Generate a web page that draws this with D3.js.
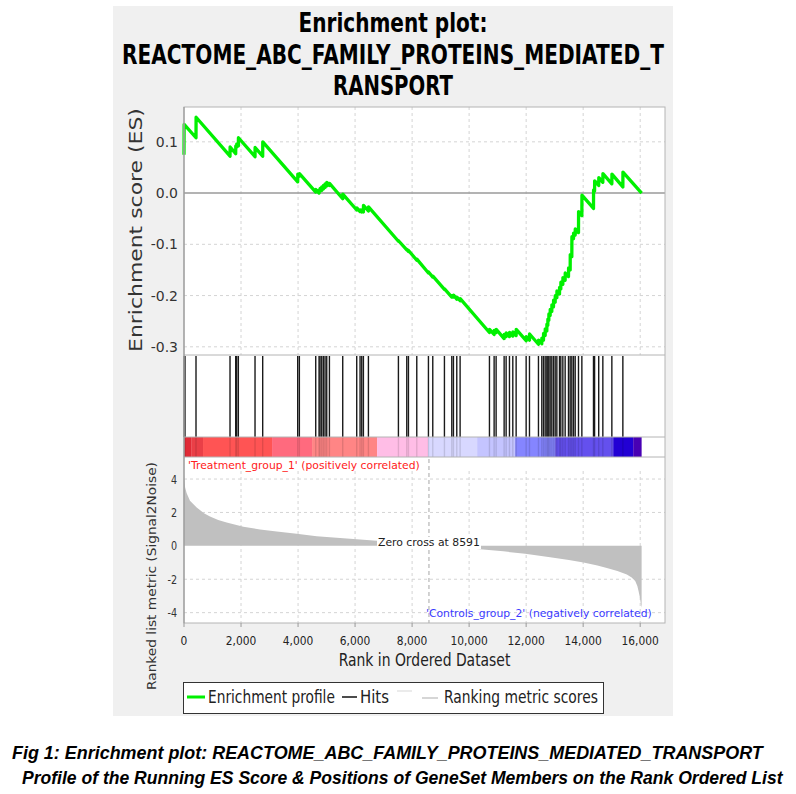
<!DOCTYPE html>
<html><head><meta charset="utf-8">
<script src="https://cdn.jsdelivr.net/npm/d3@7/dist/d3.min.js"></script>
<style>
html,body{margin:0;padding:0;background:#fff;}
svg{display:block;}
text{font-family:"DejaVu Sans",sans-serif;}
</style></head>
<body>
<svg id="chart" width="796" height="794"></svg>
<script>
// ---------------- data ----------------
const titleLines = ["Enrichment plot:", "REACTOME_ABC_FAMILY_PROTEINS_MEDIATED_T", "RANSPORT"];
const captionLines = ["Fig 1: Enrichment plot: REACTOME_ABC_FAMILY_PROTEINS_MEDIATED_TRANSPORT",
  "Profile of the Running ES Score & Positions of GeneSet Members on the Rank Ordered List"];
const totalGenes = 16050;
const zeroCross = 8591;
const xTicks = [0, 2000, 4000, 6000, 8000, 10000, 12000, 14000, 16000];
const esTicks = [0.1, 0.0, -0.1, -0.2, -0.3];
const metricTicks = [4, 2, 0, -2, -4];

// running enrichment score: rank positions and ES values
const esRanks = [0,5,421,424,1614,1617,1813,1816,1848,1851,1906,1909,2491,2494,2760,2763,
  3988,3991,4046,4049,4620,4623,4737,4740,4772,4775,4831,4834,4889,4892,4947,4950,5006,5009,
  5100,5103,5567,5570,6058,6061,6175,6178,6234,6237,6292,6295,6468,6471,7520,7523,7813,7816,
  7872,7875,8164,8167,8573,8576,8725,8728,9134,9137,9392,9395,9450,9453,9567,9570,9684,9687,
  10713,10716,10877,10880,10947,10950,11228,11231,11298,11301,11415,11418,11532,11535,11649,11652,
  12000,12003,12117,12120,12432,12435,12549,12552,12608,12611,12667,12670,12725,12728,12760,12763,
  12795,12798,12842,12845,12900,12903,12959,12962,13018,13021,13077,13080,13170,13173,13216,13219,
  13287,13290,13368,13371,13485,13488,13544,13547,13602,13605,13661,13664,13720,13723,13836,13839,
  13954,13957,14362,14365,14400,14403,14545,14548,14690,14693,15006,15009,15392,15395,16050];
const esValues = [0.075,0.134,0.108,0.148,0.072,0.090,0.077,0.092,0.090,0.096,0.092,0.108,0.071,0.089,0.072,0.100,
  0.022,0.037,0.033,0.038,0.002,0.007,0.000,0.006,0.004,0.009,0.005,0.012,0.008,0.015,0.011,0.018,0.014,0.021,
  0.015,0.019,-0.011,-0.002,-0.033,-0.029,-0.036,-0.033,-0.037,-0.033,-0.037,-0.024,-0.035,-0.027,-0.094,-0.093,-0.111,-0.110,
  -0.114,-0.112,-0.131,-0.129,-0.156,-0.154,-0.164,-0.162,-0.188,-0.187,-0.203,-0.200,-0.203,-0.199,-0.207,-0.203,-0.210,-0.206,
  -0.272,-0.266,-0.276,-0.268,-0.272,-0.266,-0.284,-0.276,-0.280,-0.273,-0.280,-0.272,-0.279,-0.271,-0.278,-0.266,
  -0.288,-0.280,-0.287,-0.275,-0.295,-0.287,-0.294,-0.283,-0.287,-0.274,-0.278,-0.265,-0.269,-0.256,-0.258,-0.246,
  -0.248,-0.236,-0.239,-0.227,-0.231,-0.218,-0.222,-0.209,-0.213,-0.200,-0.204,-0.191,-0.197,-0.184,-0.187,-0.174,
  -0.178,-0.165,-0.170,-0.156,-0.163,-0.146,-0.150,-0.120,-0.124,-0.085,-0.089,-0.078,-0.082,-0.070,-0.077,-0.036,
  -0.044,-0.004,-0.030,0.006,0.004,0.024,0.015,0.030,0.021,0.038,0.018,0.037,0.012,0.041,0.000];

// gene set member positions in the ranked list
const hitRanks = [5,35,421,1614,1813,1848,1906,2491,2760,3988,4046,4620,4737,4772,4831,4889,4947,5006,5100,
  5567,6058,6175,6234,6292,6468,7520,7813,7872,8164,8573,8725,9134,9392,9450,9567,9684,
  10713,10877,10947,11228,11298,11415,11532,11649,12000,12117,12432,12549,12608,12667,12725,12760,
  12795,12842,12900,12959,13018,13077,13170,13216,13287,13368,13485,13544,13602,13661,13720,13836,
  13954,14362,14400,14545,14690,15006,15392];

// ranked list metric (Signal2Noise)
const metricRanks = [0,15,40,94,210,445,700,912,1200,1497,2082,2667,3252,3953,4655,5590,6292,6760,7600,8200,8591,
  9300,10386,11200,11965,12842,13500,14012,14500,14830,15200,15532,15700,15825,15900,15942,15990,16025,16050];
const metricValues = [4.25,3.9,3.5,3.15,2.7,2.3,1.95,1.75,1.55,1.4,1.15,0.98,0.86,0.72,0.58,0.46,0.37,0.31,0.2,0.08,0,
  -0.08,-0.2,-0.33,-0.48,-0.68,-0.85,-1.0,-1.18,-1.32,-1.5,-1.72,-1.9,-2.1,-2.4,-2.7,-3.1,-3.5,-3.7];

// colour bar bands (rank start) and colours
const bandStarts = [0,250,667,3088,4491,6772,8561,10281,11614,13018,15053,15754];
const bandColors = ["#e02a36","#ea3f47","#ff5454","#ff6a7e","#ff8585","#ffbde6","#d8d8ff","#c4c4ff","#8585ff","#6450ee","#2200d4","#4800b4"];

// ---------------- drawing ----------------
const svg = d3.select("#chart");
const L = 184, R = 665;
const esTop = 107, esBot = 355, hitBot = 437, barBot = 457, mBot = 623;

const x = d3.scaleLinear().domain([0, 16870]).range([L, R]);
const yES = d3.scaleLinear().domain([-0.316, 0.168]).range([esBot, esTop]);
const yM = d3.scaleLinear().domain([-4.62, 5.32]).range([mBot, barBot]);

// text helper: optional target length applied as a horizontal scale
function label(g, s, o) {
  const t = g.append("text").text(s)
    .attr("x", 0).attr("y", 0)
    .attr("font-size", o.size)
    .attr("fill", o.fill || "#000")
    .attr("text-anchor", o.anchor || "start");
  if (o.weight) t.attr("font-weight", o.weight);
  if (o.style) t.attr("font-style", o.style);
  if (o.family) t.style("font-family", o.family);
  let sx = 1;
  const n = t.node().getComputedTextLength();
  if (o.len) sx = o.len / n;
  else if (o.squeeze) sx = o.squeeze;
  let tr = `translate(${o.x},${o.y})`;
  if (o.rotate) tr += ` rotate(${o.rotate})`;
  if (sx !== 1) tr += ` scale(${sx},1)`;
  t.attr("transform", tr);
  return t;
}

// gray panel
svg.append("rect").attr("x", 113).attr("y", 6).attr("width", 560).attr("height", 710).attr("fill", "#f0f0f0");

// title
const titleY = [32, 64, 95], titleW = [189, 542, 120];
titleLines.forEach((s, i) => label(svg, s, {x: 393, y: titleY[i], size: 26, weight: "bold", anchor: "middle", len: titleW[i]}));

// panel backgrounds
svg.append("rect").attr("x", L).attr("y", esTop).attr("width", R - L).attr("height", mBot - esTop).attr("fill", "#fff");

// ---- ES panel ----
const gES = svg.append("g");
gES.selectAll(".vg").data(xTicks.slice(1)).join("line")
  .attr("x1", d => x(d)).attr("x2", d => x(d)).attr("y1", esTop).attr("y2", esBot)
  .attr("stroke", "#d4d4d4").attr("stroke-dasharray", "3,3");
gES.selectAll(".hg").data(esTicks.filter(d => d !== 0)).join("line")
  .attr("x1", L).attr("x2", R).attr("y1", d => yES(d)).attr("y2", d => yES(d))
  .attr("stroke", "#d4d4d4").attr("stroke-dasharray", "3,3");
gES.append("line").attr("x1", L).attr("x2", R).attr("y1", yES(0)).attr("y2", yES(0))
  .attr("stroke", "#9a9a9a").attr("stroke-width", 1.5);

const esPts = esRanks.map((r, i) => [r, esValues[i]]);
gES.append("path").datum(esPts)
  .attr("d", d3.line().x(d => x(d[0])).y(d => yES(d[1])))
  .attr("fill", "none").attr("stroke", "#00f000").attr("stroke-width", 3.3)
  .attr("stroke-linejoin", "round");

esTicks.forEach(t => label(svg, d3.format(".1f")(t).replace("−", "-"), {x: 178, y: yES(t) + 5, size: 14, fill: "#333", anchor: "end"}));
label(svg, "Enrichment score (ES)", {x: 142, y: 230, rotate: -90, size: 18, fill: "#333", anchor: "middle", len: 244});

// ---- hits panel ----
const gH = svg.append("g");
gH.selectAll("line.hit").data(hitRanks).join("line")
  .attr("x1", d => x(d)).attr("x2", d => x(d)).attr("y1", esBot + 1).attr("y2", hitBot)
  .attr("stroke", "#1a1a1a").attr("stroke-width", 1.4);

// colour bar
const bandEnds = bandStarts.slice(1).concat([totalGenes]);
gH.selectAll("rect.band").data(bandStarts).join("rect")
  .attr("x", d => x(d)).attr("y", hitBot)
  .attr("width", (d, i) => x(bandEnds[i]) - x(d)).attr("height", barBot - hitBot)
  .attr("fill", (d, i) => bandColors[i]);
gH.selectAll("line.hitbar").data(hitRanks).join("line")
  .attr("x1", d => x(d)).attr("x2", d => x(d)).attr("y1", hitBot).attr("y2", barBot)
  .attr("stroke", "#000").attr("stroke-opacity", 0.12).attr("stroke-width", 1.4);

// ---- ranked metric panel ----
const gM = svg.append("g");
gM.selectAll(".vg").data(xTicks.slice(1)).join("line")
  .attr("x1", d => x(d)).attr("x2", d => x(d)).attr("y1", barBot + 14).attr("y2", mBot)
  .attr("stroke", "#d4d4d4").attr("stroke-dasharray", "3,3");
gM.selectAll(".hg").data(metricTicks.filter(d => d !== 0)).join("line")
  .attr("x1", L).attr("x2", R).attr("y1", d => yM(d)).attr("y2", d => yM(d))
  .attr("stroke", "#d4d4d4").attr("stroke-dasharray", "3,3");

const mPts = metricRanks.map((r, i) => [r, metricValues[i]]);
gM.append("path").datum(mPts)
  .attr("d", d3.area().x(d => x(d[0])).y0(yM(0)).y1(d => yM(d[1])))
  .attr("fill", "#c0c0c0");

gM.append("line").attr("x1", x(zeroCross)).attr("x2", x(zeroCross)).attr("y1", barBot + 2).attr("y2", mBot)
  .attr("stroke", "#c4c4c4").attr("stroke-width", 1.5).attr("stroke-dasharray", "4,3");

// zero cross label with white background
gM.append("rect").attr("x", 377).attr("y", 537).attr("width", 104).attr("height", 12).attr("fill", "#fff");
label(gM, "Zero cross at " + zeroCross, {x: 378, y: 546, size: 11, fill: "#222", len: 102});

label(gM, "'Treatment_group_1' (positively correlated)", {x: 188, y: 469, size: 11, fill: "#ff2020", len: 232});
label(gM, "'Controls_group_2' (negatively correlated)", {x: 426, y: 617, size: 11, fill: "#3a3aff", len: 226});

metricTicks.forEach(t => label(svg, String(t), {x: 177, y: yM(t) + 4.5, size: 12, fill: "#333", anchor: "end", squeeze: 0.8}));
label(svg, "Ranked list metric (Signal2Noise)", {x: 156, y: 576, rotate: -90, size: 13, fill: "#333", anchor: "middle", len: 228});

// borders
const border = svg.append("g").attr("fill", "none");
border.append("rect").attr("x", L).attr("y", esTop).attr("width", R - L).attr("height", mBot - esTop)
  .attr("stroke", "#b4b4b4").attr("stroke-width", 1);
[esBot, hitBot, barBot].forEach(yy => border.append("line").attr("x1", L).attr("x2", R).attr("y1", yy).attr("y2", yy)
  .attr("stroke", "#b4b4b4"));
border.append("line").attr("x1", L).attr("x2", L).attr("y1", esTop).attr("y2", mBot).attr("stroke", "#999").attr("stroke-width", 1.2);

// x axis ticks
svg.selectAll("line.xt").data(xTicks).join("line")
  .attr("x1", d => x(d)).attr("x2", d => x(d)).attr("y1", mBot).attr("y2", mBot + 4)
  .attr("stroke", "#999");
xTicks.forEach(t => label(svg, d3.format(",")(t), {x: x(t), y: 645, size: 13, fill: "#222", anchor: "middle", squeeze: 0.82}));
label(svg, "Rank in Ordered Dataset", {x: 424.5, y: 666, size: 17, fill: "#222", anchor: "middle", len: 172});

// legend
const lg = svg.append("g");
lg.append("rect").attr("x", 183.5).attr("y", 682.5).attr("width", 420).attr("height", 31)
  .attr("fill", "#fff").attr("stroke", "#333");
lg.append("line").attr("x1", 187).attr("x2", 205).attr("y1", 697).attr("y2", 697).attr("stroke", "#00f000").attr("stroke-width", 3);
label(lg, "Enrichment profile", {x: 208, y: 703, size: 17, fill: "#222", len: 127});
lg.append("line").attr("x1", 342).attr("x2", 357).attr("y1", 697).attr("y2", 697).attr("stroke", "#111").attr("stroke-width", 1.5);
label(lg, "Hits", {x: 360, y: 703, size: 17, fill: "#222", len: 29});
lg.append("line").attr("x1", 397).attr("x2", 412).attr("y1", 691).attr("y2", 691).attr("stroke", "#e4e4e4").attr("stroke-width", 1.5);
lg.append("line").attr("x1", 422).attr("x2", 438).attr("y1", 698).attr("y2", 698).attr("stroke", "#c8c8c8").attr("stroke-width", 1.5);
label(lg, "Ranking metric scores", {x: 444, y: 703, size: 17, fill: "#222", len: 154});

// caption
const capX = [12, 22], capY = [759, 784], capW = [751, 761];
captionLines.forEach((s, i) => label(svg, s, {x: capX[i], y: capY[i], size: 19, weight: "bold", style: "italic",
  family: "'Liberation Sans', Arial, sans-serif", len: capW[i]}));
</script>
</body></html>
